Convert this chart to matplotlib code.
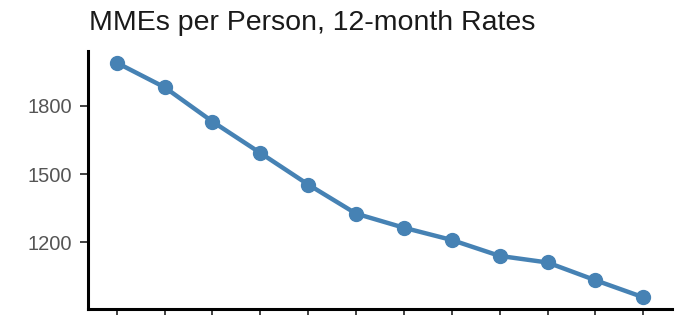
import matplotlib
matplotlib.use("Agg")
import matplotlib.pyplot as plt

# 12-month rates
periods = list(range(1, 13))
mme_values = [1990, 1882, 1731, 1593, 1454, 1326, 1264, 1210, 1140, 1111, 1033, 958]
y_ticks = [1200, 1500, 1800]

plt.rcParams['font.family'] = ['Liberation Sans', 'DejaVu Sans']

fig = plt.figure(figsize=(6.87, 3.15), dpi=100)
ax = fig.add_axes([88 / 687, 1 - 309 / 315, (672 - 88) / 687, (309 - 51) / 315])

ax.plot(periods, mme_values, color='#4682B4', linewidth=3.2,
        marker='o', markersize=10, solid_capstyle='round')

# ggplot-style limits (discrete x expand 0.6, continuous y 5%)
ax.set_xlim(0.4, 12.6)
span = max(mme_values) - min(mme_values)
ax.set_ylim(min(mme_values) - 0.05 * span, max(mme_values) + 0.05 * span)

ax.set_xticks(periods)
ax.set_xticklabels([])
ax.set_yticks(y_ticks)
ax.set_yticklabels([str(t) for t in y_ticks], fontsize=14.5, color='#555555')
ax.tick_params(axis='both', length=5.5, width=1.3, color='#333333', pad=6)

for side in ['top', 'right']:
    ax.spines[side].set_visible(False)
for side in ['left', 'bottom']:
    ax.spines[side].set_linewidth(2.2)
    ax.spines[side].set_color('black')

fig.text(89 / 687, 1 - 30 / 315, 'MMEs per Person, 12-month Rates',
         fontsize=20.5, color='#1a1a1a', ha='left', va='baseline')

fig.savefig('out.png', dpi=100)
